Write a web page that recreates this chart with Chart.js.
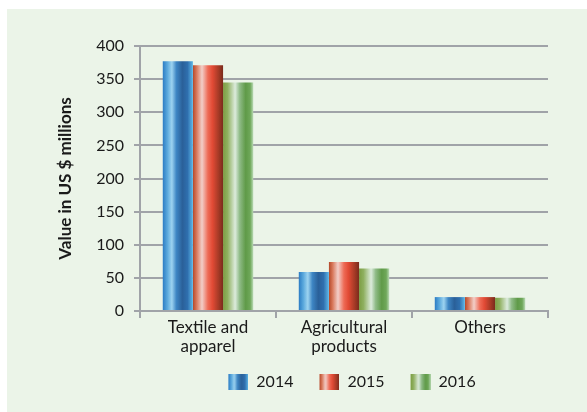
<!DOCTYPE html>
<html>
<head>
<meta charset="utf-8">
<script src="https://cdn.jsdelivr.net/npm/chart.js@4.4.1/dist/chart.umd.min.js"></script>
<style>
  html, body { margin: 0; padding: 0; background: #ffffff; }
  #frame {
    position: absolute; left: 7px; top: 9px;
    width: 580px; height: 403px;
    background: #ebf4e8;
  }
  #chart { display: block; }
</style>
</head>
<body>
<div id="frame"><canvas id="chart" width="580" height="403"></canvas></div>
<script>
// categories and yearly export values (US$ millions)
const categories = [['Textile and', 'apparel'], ['Agricultural', 'products'], 'Others'];
const years = ['2014', '2015', '2016'];
const values2014 = [377, 59, 21];
const values2015 = [371, 74, 21];
const values2016 = [345, 64, 20];
const yTicks = [0, 50, 100, 150, 200, 250, 300, 350, 400];

// horizontal "metallic" stripes for each series
const stripes = [
  [[0, '#2c7cc4'], [0.15, '#5aa8dc'], [0.3, '#9dd3f0'], [0.45, '#3e86c4'], [0.65, '#2a6099'], [0.82, '#2f6fae'], [1, '#5fb8e8']],
  [[0, '#b4492a'], [0.12, '#d8775a'], [0.3, '#f2cec8'], [0.5, '#ee6a55'], [0.65, '#e14a35'], [0.85, '#a63a26'], [1, '#7a2a1c']],
  [[0, '#7c9e43'], [0.15, '#8fb060'], [0.4, '#dcebdc'], [0.55, '#8fbb87'], [0.75, '#5f9a48'], [0.9, '#6fa85a'], [1, '#b8d9b4']]
];

function stripeGradient(ctx, x0, x1, stops) {
  const g = ctx.createLinearGradient(x0, 0, x1, 0);
  stops.forEach(s => g.addColorStop(s[0], s[1]));
  return g;
}

// legend swatches: 20px striped box, with empty room on the left to space the items out
const SWATCH_W = 20, SWATCH_GAP = 16;
function swatch(stops) {
  const c = document.createElement('canvas');
  c.width = SWATCH_W + SWATCH_GAP; c.height = 16;
  const cx = c.getContext('2d');
  cx.fillStyle = stripeGradient(cx, SWATCH_GAP, SWATCH_GAP + SWATCH_W, stops);
  cx.fillRect(SWATCH_GAP, 0, SWATCH_W, 16);
  return c;
}
const swatches = stripes.map(swatch);

// give each bar its own gradient spanning the bar width
const barStripes = {
  id: 'barStripes',
  beforeDatasetDraw(chart, args) {
    const stops = stripes[args.index];
    args.meta.data.forEach(el => {
      const { x, width } = el.getProps(['x', 'width'], true);
      const g = stripeGradient(chart.ctx, x - width / 2, x + width / 2, stops);
      el.options = Object.assign({}, el.options, { backgroundColor: g });
    });
  }
};

const gridGray = '#a0a3a8';
const textColor = '#1a1a1a';
const font = 'Lato, "Open Sans", sans-serif';

new Chart(document.getElementById('chart'), {
  type: 'bar',
  data: {
    labels: categories,
    datasets: [
      { label: years[0], data: values2014, pointStyle: swatches[0] },
      { label: years[1], data: values2015, pointStyle: swatches[1] },
      { label: years[2], data: values2016, pointStyle: swatches[2] }
    ]
  },
  options: {
    responsive: false,
    animation: false,
    events: [],
    datasets: {
      bar: { categoryPercentage: 0.665, barPercentage: 1, backgroundColor: '#888' }
    },
    layout: { padding: { top: 37, right: 39, bottom: 12, left: 0 } },
    plugins: {
      tooltip: { enabled: false },
      legend: {
        position: 'bottom',
        fullSize: false,
        labels: {
          usePointStyle: true,
          pointStyleWidth: SWATCH_W + SWATCH_GAP,
          boxHeight: 16,
          padding: 10,
          color: textColor,
          font: { family: font, size: 16 }
        }
      }
    },
    scales: {
      x: {
        offset: true,
        grid: { drawOnChartArea: false, drawTicks: true, tickLength: 7, color: gridGray, lineWidth: 2 },
        border: { color: gridGray, width: 2 },
        ticks: { color: textColor, font: { family: font, size: 17, lineHeight: 1.12 }, maxRotation: 0, padding: 0 },
        afterFit(scale) { scale.height = 53; }
      },
      y: {
        min: 0,
        max: 400,
        afterBuildTicks(scale) { scale.ticks = yTicks.map(v => ({ value: v })); },
        grid: { color: gridGray, lineWidth: 2, tickLength: 6 },
        border: { color: gridGray, width: 2 },
        ticks: { color: textColor, font: { family: font, size: 16 }, padding: 10 },
        title: {
          display: true,
          text: 'Value in US $ millions',
          color: textColor,
          font: { family: font, size: 17, weight: 'bold' },
          padding: { top: 48, bottom: 0 }
        },
        afterFit(scale) { scale.width = 133; }
      }
    }
  },
  plugins: [barStripes]
});
</script>
</body>
</html>
